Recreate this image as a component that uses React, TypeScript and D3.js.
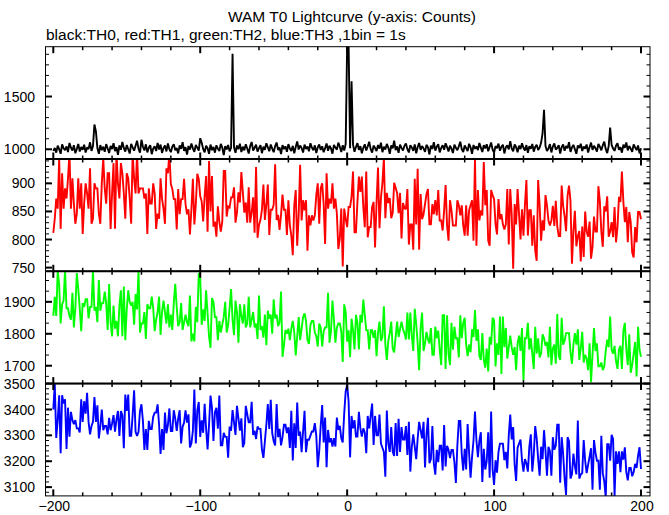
import React from "react";
import * as d3 from "d3";

const TITLE = "WAM T0 Lightcurve (y-axis: Counts)";
const SUBTITLE = "black:TH0, red:TH1, green:TH2, blue:TH3 ,1bin = 1s";

const xStart = -200; // first bin time (s)
const xMajorTicks = [-200, -100, 0, 100, 200];
const xTickLabels = ["\u2212200", "\u2212100", "0", "100", "200"];

// TH0 (black)
const th0 = [
  985, 1012, 968, 1034, 1001, 957, 1046, 1010, 992, 1027, 974, 1060, 1015, 988, 1039, 962, 1004, 1051, 979, 1022,
  996, 1043, 970, 1018, 1002, 1066, 985, 1030, 1235, 1170, 1012, 958, 1040, 991, 1025, 976, 1049, 1008, 965, 1031,
  1003, 1058, 982, 1021, 947, 1036, 995, 1070, 1013, 978, 1041, 1000, 960, 1052, 1019, 987, 1033, 1082, 1005, 969,
  1090, 1024, 989, 1047, 971, 1015, 1038, 954, 1007, 1029, 983, 1061, 998, 1044, 966, 1011, 1035, 980, 1056, 1002,
  973, 1026, 1048, 990, 1012, 961, 1037, 1004, 1068, 985, 1020, 950, 1031, 997, 1054, 1009, 976, 1042, 1016, 988,
  1105, 1062, 1003, 971, 1034, 1010, 957, 1045, 992, 1023, 968, 1038, 1006, 984, 1051, 1017, 945, 1029, 999, 1041,
  980, 1014, 1905, 1020, 966, 1036, 1001, 1053, 974, 1025, 990, 1047, 1008, 960, 1032, 1069, 987, 1015, 1043, 978,
  1011, 1039, 963, 1024, 995, 1057, 1019, 982, 1045, 1006, 972, 1030, 1064, 993, 1017, 955, 1040, 1002, 1028, 976,
  1049, 1007, 985, 1033, 961, 1021, 1075, 998, 1036, 1012, 969, 1044, 1003, 1026, 981, 1058, 1015, 990, 1037, 964,
  1019, 1046, 994, 1028, 972, 1011, 1055, 986, 1034, 1008, 959, 1041, 1016, 997, 1063, 1024, 975, 1039, 988, 1050,
  1985, 1982, 1010, 1645, 1043, 977, 1021, 1058, 995, 1030, 963, 1014, 1047, 989, 1026, 1071, 1002, 968, 1035, 1012,
  984, 1040, 1007, 1062, 973, 1025, 998, 1051, 1016, 957, 1037, 1009, 1081, 992, 1027, 966, 1044, 1013, 989, 1033,
  1055, 1001, 970, 1038, 1017, 985, 1046, 962, 1022, 1059, 994, 1031, 1008, 976, 1042, 1019, 951, 1035, 1003, 1067,
  987, 1024, 1048, 971, 1012, 1039, 996, 1057, 1021, 980, 1034, 1006, 965, 1045, 1015, 991, 1028, 1072, 1000, 974,
  1036, 1010, 983, 1052, 1019, 958, 1041, 1004, 1027, 993, 1060, 1016, 975, 1038, 1009, 1048, 982, 1023, 1065, 997,
  969, 1030, 1011, 1054, 986, 1025, 1043, 961, 1018, 1037, 999, 1076, 1008, 981, 1046, 1020, 972, 1035, 1002, 1058,
  1014, 989, 1040, 966, 1029, 1005, 1050, 978, 1022, 1044, 993, 1017, 1061, 1150, 1375, 1031, 984, 1007, 1049, 970,
  1026, 1055, 998, 1013, 1039, 960, 1021, 1046, 987, 1032, 1009, 1068, 975, 1018, 1042, 1001, 957, 1036, 1012, 1053,
  983, 1027, 1006, 1045, 970, 1019, 1063, 994, 1033, 1011, 979, 1050, 1024, 990, 1038, 1073, 1002, 964, 1029, 1205,
  1041, 1008, 985, 1034, 1057, 996, 1020, 968, 1043, 1015, 1064, 989, 1031, 1006, 975, 1047, 1018, 992, 1036, 961,
  1010,
];

// TH1 (red)
const th1 = [
  812, 837, 873, 855, 945, 819, 918, 855, 891, 873, 909, 954, 855, 909, 864, 828, 846, 909, 855, 900,
  810, 864, 900, 882, 855, 927, 828, 837, 900, 891, 891, 846, 828, 900, 945, 891, 864, 918, 918, 819,
  882, 936, 819, 954, 900, 873, 936, 918, 882, 837, 918, 909, 873, 828, 954, 909, 882, 954, 882, 891,
  891, 891, 873, 882, 810, 891, 864, 864, 900, 882, 819, 846, 837, 909, 873, 855, 828, 927, 918, 954,
  899, 890, 872, 872, 818, 890, 845, 872, 872, 908, 863, 845, 854, 809, 854, 908, 827, 863, 917, 908,
  877, 868, 832, 877, 913, 814, 940, 850, 913, 823, 832, 805, 859, 832, 814, 832, 922, 922, 841, 859,
  857, 875, 875, 893, 830, 848, 884, 866, 920, 884, 848, 866, 830, 893, 830, 848, 875, 812, 929, 803,
  826, 835, 853, 898, 835, 862, 898, 808, 853, 853, 862, 934, 835, 844, 817, 844, 880, 853, 853, 808,
  870, 825, 807, 772, 861, 888, 789, 843, 933, 834, 870, 852, 870, 780, 843, 825, 843, 834, 843, 879,
  900, 828, 891, 900, 864, 792, 918, 855, 873, 864, 900, 855, 873, 846, 783, 801, 855, 752, 855, 837,
  822, 858, 858, 876, 921, 813, 813, 867, 912, 885, 912, 858, 822, 921, 804, 822, 822, 858, 867, 786,
  865, 928, 820, 874, 901, 945, 838, 883, 865, 874, 838, 847, 901, 892, 883, 847, 883, 802, 865, 856,
  854, 890, 791, 827, 827, 782, 908, 827, 926, 782, 881, 836, 845, 863, 881, 890, 827, 827, 863, 845,
  870, 843, 888, 834, 834, 816, 852, 897, 825, 798, 870, 852, 825, 825, 825, 870, 861, 843, 861, 825,
  807, 861, 807, 852, 861, 870, 798, 944, 789, 888, 834, 852, 843, 938, 861, 888, 798, 789, 888, 879,
  872, 827, 809, 872, 836, 845, 827, 818, 827, 890, 791, 890, 845, 748, 863, 827, 890, 845, 800, 854,
  807, 861, 906, 807, 852, 852, 789, 843, 780, 762, 906, 861, 798, 834, 816, 879, 861, 834, 825, 834,
  860, 824, 869, 824, 806, 806, 896, 860, 842, 815, 878, 896, 869, 757, 815, 851, 788, 806, 815, 761,
  823, 769, 850, 814, 805, 832, 766, 787, 841, 814, 814, 895, 868, 814, 787, 859, 850, 877, 805, 814,
  831, 804, 858, 795, 822, 876, 867, 921, 867, 831, 858, 795, 849, 831, 777, 768, 822, 795, 849, 849,
  836,
];

// TH2 (green)
const th2 = [
  1856, 1916, 1856, 1998, 1952, 1832, 1892, 1904, 2000, 1880, 1880, 1856, 1844, 1928, 1820, 1880, 1990, 1940, 1880, 1808,
  1896, 1884, 1908, 1908, 1848, 1884, 1884, 2000, 1872, 1884, 1836, 1968, 1872, 1896, 1896, 1932, 1896, 1812, 1956, 1836,
  1792, 1888, 1816, 1840, 1792, 1888, 1936, 1792, 1948, 1780, 1876, 1936, 1900, 1888, 1900, 1828, 1924, 1876, 1999, 1804,
  1832, 1832, 1868, 1784, 1892, 1880, 1880, 1916, 1880, 1808, 1844, 1868, 1916, 1796, 1868, 1904, 1868, 1832, 1892, 1820,
  1860, 1812, 1896, 1956, 1884, 1824, 1836, 1896, 1812, 1836, 1860, 1836, 1824, 1920, 1776, 1800, 1776, 1884, 1836, 1990,
  1975, 1828, 1876, 1840, 1936, 1864, 1792, 1756, 1912, 1900, 1852, 1852, 1780, 1840, 1804, 1828, 1852, 1900, 1804, 1828,
  1880, 1940, 1844, 1796, 1904, 1868, 1772, 1892, 1856, 1832, 1892, 1820, 1832, 1916, 1820, 1844, 1868, 1820, 1832, 1784,
  1920, 1812, 1824, 1788, 1860, 1764, 1872, 1848, 1860, 1800, 1908, 1848, 1860, 1824, 1836, 1932, 1728, 1764, 1812, 1800,
  1816, 1780, 1816, 1840, 1804, 1732, 1792, 1852, 1780, 1816, 1852, 1864, 1840, 1780, 1768, 1828, 1840, 1840, 1804, 1792,
  1760, 1832, 1820, 1760, 1808, 1820, 1820, 1928, 1772, 1808, 1904, 1844, 1772, 1820, 1832, 1832, 1808, 1712, 1892, 1868,
  1775, 1811, 1727, 1847, 1811, 1751, 1859, 1835, 1751, 1859, 1835, 1907, 1859, 1811, 1811, 1751, 1811, 1811, 1787, 1811,
  1730, 1802, 1838, 1778, 1790, 1886, 1766, 1718, 1778, 1802, 1838, 1754, 1742, 1790, 1838, 1790, 1814, 1838, 1814, 1802,
  1782, 1866, 1782, 1866, 1794, 1746, 1878, 1830, 1770, 1686, 1818, 1866, 1746, 1770, 1806, 1782, 1770, 1818, 1734, 1734,
  1822, 1786, 1810, 1750, 1702, 1858, 1858, 1690, 1858, 1738, 1702, 1834, 1750, 1822, 1786, 1786, 1726, 1858, 1786, 1834,
  1850, 1766, 1730, 1766, 1742, 1814, 1790, 1874, 1778, 1814, 1730, 1718, 1802, 1718, 1694, 1754, 1682, 1790, 1766, 1850,
  1842, 1698, 1770, 1734, 1854, 1674, 1854, 1758, 1818, 1722, 1758, 1794, 1758, 1734, 1758, 1686, 1770, 1794, 1746, 1818,
  1654, 1786, 1786, 1834, 1750, 1786, 1738, 1690, 1822, 1738, 1786, 1726, 1738, 1798, 1786, 1762, 1774, 1726, 1822, 1702,
  1754, 1766, 1706, 1862, 1730, 1718, 1850, 1766, 1778, 1802, 1802, 1802, 1742, 1706, 1766, 1802, 1766, 1814, 1718, 1754,
  1806, 1710, 1734, 1722, 1686, 1770, 1648, 1734, 1818, 1746, 1770, 1698, 1698, 1710, 1686, 1698, 1746, 1782, 1758, 1854,
  1750, 1738, 1762, 1714, 1690, 1750, 1762, 1690, 1810, 1834, 1750, 1702, 1798, 1678, 1702, 1738, 1774, 1666, 1822, 1750,
  1728,
];

// TH3 (blue)
const th3 = [
  3400, 3498, 3290, 3359, 3455, 3231, 3455, 3423, 3439, 3247, 3407, 3295, 3391, 3359, 3343, 3359, 3327, 3327, 3311, 3439,
  3352, 3432, 3384, 3464, 3352, 3304, 3336, 3352, 3448, 3352, 3416, 3288, 3336, 3400, 3320, 3336, 3336, 3304, 3368, 3320,
  3346, 3378, 3314, 3362, 3394, 3298, 3394, 3378, 3250, 3458, 3394, 3458, 3298, 3298, 3378, 3474, 3314, 3298, 3314, 3394,
  3420, 3356, 3244, 3324, 3244, 3356, 3324, 3324, 3372, 3388, 3388, 3420, 3340, 3228, 3324, 3244, 3388, 3308, 3340, 3404,
  3317, 3317, 3397, 3365, 3317, 3365, 3397, 3269, 3333, 3349, 3397, 3349, 3381, 3253, 3269, 3317, 3477, 3269, 3397, 3429,
  3294, 3358, 3310, 3422, 3326, 3246, 3342, 3454, 3406, 3278, 3390, 3406, 3326, 3454, 3262, 3262, 3310, 3294, 3294, 3214,
  3334, 3318, 3398, 3350, 3302, 3414, 3366, 3318, 3366, 3254, 3270, 3414, 3382, 3350, 3350, 3430, 3302, 3318, 3286, 3334,
  3325, 3325, 3245, 3213, 3277, 3341, 3421, 3325, 3437, 3309, 3277, 3261, 3421, 3293, 3325, 3261, 3293, 3341, 3341, 3309,
  3331, 3251, 3395, 3203, 3347, 3251, 3427, 3299, 3315, 3235, 3315, 3395, 3235, 3283, 3283, 3299, 3315, 3315, 3347, 3299,
  3177, 3241, 3337, 3417, 3273, 3369, 3177, 3321, 3273, 3289, 3257, 3289, 3257, 3369, 3321, 3337, 3289, 3273, 3385, 3470,
  3495, 3430, 3215, 3375, 3327, 3359, 3295, 3295, 3391, 3327, 3295, 3327, 3311, 3231, 3375, 3327, 3375, 3423, 3263, 3375,
  3300, 3300, 3380, 3268, 3252, 3236, 3140, 3396, 3268, 3236, 3332, 3236, 3220, 3348, 3220, 3364, 3236, 3332, 3284, 3284,
  3336, 3224, 3352, 3160, 3256, 3304, 3256, 3208, 3288, 3352, 3320, 3288, 3352, 3176, 3304, 3368, 3192, 3208, 3336, 3192,
  3148, 3244, 3196, 3260, 3260, 3164, 3340, 3180, 3260, 3244, 3212, 3244, 3244, 3196, 3116, 3260, 3356, 3356, 3228, 3164,
  3248, 3168, 3344, 3232, 3136, 3216, 3280, 3392, 3280, 3216, 3280, 3312, 3120, 3248, 3168, 3200, 3312, 3136, 3392, 3168,
  3108, 3204, 3156, 3236, 3268, 3268, 3268, 3204, 3236, 3172, 3300, 3380, 3284, 3332, 3188, 3124, 3252, 3268, 3284, 3204,
  3160, 3208, 3192, 3160, 3256, 3304, 3160, 3224, 3336, 3288, 3208, 3144, 3256, 3208, 3320, 3240, 3144, 3256, 3240, 3144,
  3293, 3245, 3261, 3341, 3341, 3117, 3293, 3229, 3133, 3070, 3293, 3277, 3133, 3149, 3229, 3181, 3149, 3357, 3133, 3149,
  3154, 3282, 3202, 3154, 3186, 3218, 3250, 3090, 3282, 3234, 3202, 3202, 3090, 3298, 3154, 3122, 3060, 3266, 3266, 3202,
  3302, 3286, 3065, 3238, 3190, 3238, 3158, 3238, 3206, 3254, 3158, 3126, 3174, 3174, 3142, 3158, 3190, 3174, 3222, 3254,
  3170,
];

// y-axis ranges, tick steps and labels per panel
const yDomains: [number, number][] = [
  [908, 1972],
  [743.4, 943.4],
  [1644, 1995.5],
  [3066, 3500],
];
const yMinorSteps = [100, 10, 100 / 3, 20];
const yMinorStarts = [1000, 750, 1666.6667, 3080];
const yMajorTicks = [
  [1000, 1500],
  [750, 800, 850, 900],
  [1700, 1800, 1900],
  [3100, 3200, 3300, 3400, 3500],
];
const seriesColors = ["#000000", "#ff0000", "#00ff00", "#0000ff"];
const seriesList = [th0, th1, th2, th3];

const W = 669;
const H = 515;
const LEFT = 45.5;
const RIGHT = 650;
const TOP = 46.7;
const PANEL_H = 112.3;
const FONT = "'Liberation Sans', Arial, Helvetica, sans-serif";

export default function App() {
  const x = d3.scaleLinear().domain([-200, 200]).range([53.3, 641]);
  const xMinor = d3.range(-200, 201, 20);

  return (
    <svg width={W} height={H} style={{ display: "block", position: "absolute", left: 0, top: 0, background: "#fff" }}>
      <rect x={0} y={0} width={W} height={H} fill="#fff" />
      <text x={352} y={22} textAnchor="middle" fontFamily={FONT} fontSize={15.5} fill="#000">
        {TITLE}
      </text>
      <text x={46} y={40} textAnchor="start" fontFamily={FONT} fontSize={15.5} fill="#000">
        {SUBTITLE}
      </text>
      <defs>
        {seriesList.map((_, p) => (
          <clipPath id={`clip${p}`} key={p}>
            <rect x={LEFT} y={TOP + p * PANEL_H} width={RIGHT - LEFT} height={PANEL_H} />
          </clipPath>
        ))}
      </defs>
      {seriesList.map((data, p) => {
        const top = TOP + p * PANEL_H;
        const bottom = top + PANEL_H;
        const y = d3.scaleLinear().domain(yDomains[p]).range([bottom, top]);
        const line = d3
          .line<number>()
          .x((_, i) => x(xStart + i))
          .y((d) => y(d));
        const minor: number[] = [];
        for (let v = yMinorStarts[p]; v <= yDomains[p][1] + 1e-6; v += yMinorSteps[p]) minor.push(v);
        return (
          <g key={p}>
            <path d={line(data) || ""} fill="none" stroke={seriesColors[p]} strokeWidth={1.9} strokeLinejoin="miter" strokeMiterlimit={2} clipPath={`url(#clip${p})`} />
            <rect x={LEFT} y={top} width={RIGHT - LEFT} height={PANEL_H} fill="none" stroke="#000" strokeWidth={1} />
            {minor.map((v, i) => (
              <g key={"ym" + i}>
                <line x1={LEFT} x2={LEFT + 3.5} y1={y(v)} y2={y(v)} stroke="#000" strokeWidth={1} />
                <line x1={RIGHT} x2={RIGHT - 3.5} y1={y(v)} y2={y(v)} stroke="#000" strokeWidth={1} />
              </g>
            ))}
            {yMajorTicks[p].map((v, i) => (
              <g key={"yM" + i}>
                <line x1={LEFT} x2={LEFT + 6.5} y1={y(v)} y2={y(v)} stroke="#000" strokeWidth={2} />
                <line x1={RIGHT} x2={RIGHT - 6.5} y1={y(v)} y2={y(v)} stroke="#000" strokeWidth={2} />
                <text x={35} y={y(v)} dy="0.36em" textAnchor="end" fontFamily={FONT} fontSize={14} fill="#000">
                  {String(v)}
                </text>
              </g>
            ))}
            {xMinor.map((v, i) => {
              const major = v % 100 === 0;
              const len = major ? 6.5 : 3.5;
              return (
                <g key={"x" + i}>
                  <line x1={x(v)} x2={x(v)} y1={top} y2={top + len} stroke="#000" strokeWidth={major ? 2 : 1.5} />
                  <line x1={x(v)} x2={x(v)} y1={bottom} y2={bottom - len} stroke="#000" strokeWidth={major ? 2 : 1.5} />
                </g>
              );
            })}
          </g>
        );
      })}
      {[1, 2, 3].map((k) => (
        <line key={k} x1={LEFT} x2={RIGHT} y1={TOP + k * PANEL_H} y2={TOP + k * PANEL_H} stroke="#000" strokeWidth={2} />
      ))}
      {xMajorTicks.map((v, i) => (
        <text key={i} x={x(v) + 1} y={511} textAnchor="middle" fontFamily={FONT} fontSize={14} fill="#000">
          {xTickLabels[i]}
        </text>
      ))}
    </svg>
  );
}
